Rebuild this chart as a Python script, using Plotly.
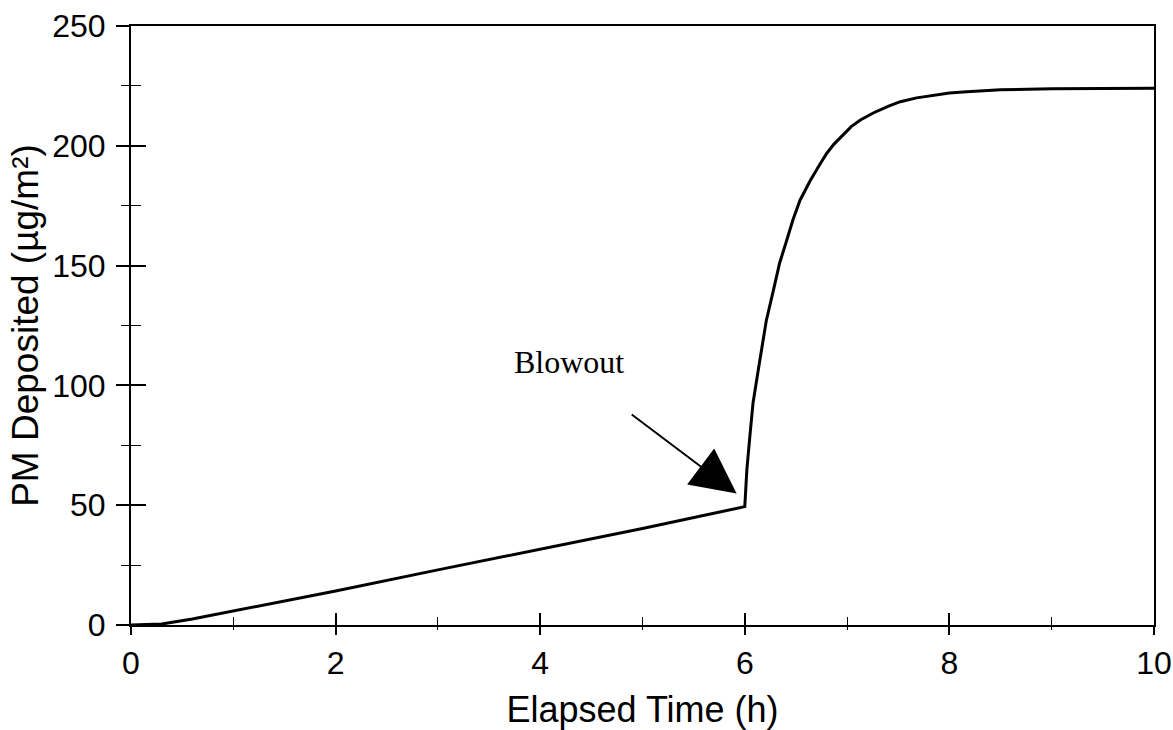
import plotly.graph_objects as go

# Data
time_h = [0, 0.3, 0.6, 1, 1.5, 2, 3, 4, 5, 6,
          6.02, 6.05, 6.08, 6.13, 6.18, 6.21, 6.28, 6.34, 6.41, 6.47, 6.54, 6.64,
          6.73, 6.8, 6.87, 6.95, 7.04, 7.13, 7.26, 7.4, 7.52, 7.68, 8.0, 8.17, 8.5, 9, 10]
pm_dep = [0, 0.4, 2.5, 5.8, 9.8, 14.2, 23, 31.6, 40.3, 49.4,
          64.7, 79, 92.5, 106, 120.3, 127, 139.8, 151, 160.6, 169, 177.3, 185.5,
          192, 196.8, 200.6, 204.3, 208, 210.8, 213.8, 216.5, 218.4, 220, 222, 222.6, 223.4, 223.8, 224]

x_ticks = [0, 2, 4, 6, 8, 10]
y_ticks = [0, 50, 100, 150, 200, 250]

label_text = "Blowout"
label_x, label_y = 4.28, 109.7
arrow_tip_x, arrow_tip_y = 5.92, 54.9
arrow_tail_x, arrow_tail_y = 4.88, 88.3

FONT = "Liberation Sans, Arial, sans-serif"
SERIF = "Liberation Serif, Times New Roman, serif"

fig = go.Figure()
fig.add_trace(go.Scatter(x=time_h, y=pm_dep, mode="lines",
                         line=dict(color="black", width=3),
                         showlegend=False, hoverinfo="skip"))
# invisible trace to carry the inner tick axes
fig.add_trace(go.Scatter(x=[0], y=[0], xaxis="x2", yaxis="y2", mode="markers",
                         marker=dict(opacity=0), showlegend=False, hoverinfo="skip"))

common = dict(showgrid=False, zeroline=False, automargin=False)

fig.update_layout(
    width=1173, height=730,
    margin=dict(l=131, r=19, t=26, b=105),
    paper_bgcolor="white", plot_bgcolor="white",
    font=dict(family=FONT, color="black"),
    xaxis=dict(range=[0, 10], tickvals=x_ticks, ticktext=[str(v) for v in x_ticks],
               ticks="outside", ticklen=8, tickwidth=1.5, tickcolor="black",
               minor=dict(ticks="outside", ticklen=3, dtick=1, tickwidth=1.2, tickcolor="black"),
               showline=True, linewidth=2, linecolor="black", mirror=True,
               tickfont=dict(size=32, family=FONT), ticklabelstandoff=1,
               title=dict(text="Elapsed Time (h)", font=dict(size=36, family=FONT), standoff=16),
               **common),
    yaxis=dict(range=[0, 250], tickvals=y_ticks, ticktext=[str(v) for v in y_ticks],
               ticks="outside", ticklen=13, tickwidth=1.5, tickcolor="black",
               minor=dict(ticks="outside", ticklen=8, dtick=25, tickwidth=1.2, tickcolor="black"),
               showline=True, linewidth=2, linecolor="black", mirror=True,
               tickfont=dict(size=32, family=FONT), ticklabelstandoff=4,
               title=dict(text="PM Deposited (µg/m²)", font=dict(size=37, family=FONT), standoff=2),
               **common),
    xaxis2=dict(range=[0, 10], overlaying="x", anchor="y2", side="bottom",
                tickvals=x_ticks, ticks="inside", ticklen=12, tickwidth=1.5, tickcolor="black",
                minor=dict(ticks="inside", ticklen=8, dtick=1, tickwidth=1.2, tickcolor="black"),
                showticklabels=False, showline=False, **common),
    yaxis2=dict(range=[0, 250], overlaying="y", anchor="x2", side="left",
                tickvals=y_ticks, ticks="inside", ticklen=15, tickwidth=1.5, tickcolor="black",
                minor=dict(ticks="inside", ticklen=10, dtick=25, tickwidth=1.2, tickcolor="black"),
                showticklabels=False, showline=False, **common),
    annotations=[
        dict(x=label_x, y=label_y, xref="x", yref="y", text=label_text, showarrow=False,
             font=dict(family=SERIF, size=32, color="black")),
        dict(x=arrow_tip_x, y=arrow_tip_y, xref="x", yref="y",
             ax=arrow_tail_x, ay=arrow_tail_y, axref="x", ayref="y",
             text="", showarrow=True, arrowhead=2, arrowwidth=2, arrowsize=4.5,
             arrowcolor="black", standoff=0),
    ],
)

fig.write_html("out.html")
